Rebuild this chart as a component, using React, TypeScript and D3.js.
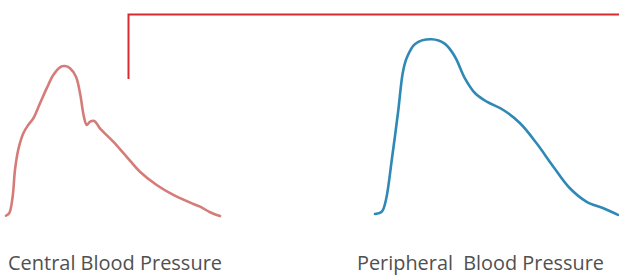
import React, { useEffect, useRef } from "react";
import * as d3 from "d3";

// fraction of the cardiac cycle, and pressure (relative units, 0-100)
const centralTime = [0, 0.015, 0.031, 0.042, 0.057, 0.081, 0.104, 0.128, 0.159, 0.19, 0.221, 0.252, 0.276, 0.299, 0.327, 0.346, 0.364, 0.377, 0.393, 0.413, 0.439, 0.501, 0.564, 0.626, 0.704, 0.782, 0.875, 0.907, 0.953, 1];
const centralPressure = [0.2, 1.5, 10.7, 25.6, 36.7, 46, 50.6, 54.3, 62.6, 70.9, 78.3, 82.6, 83.3, 82.1, 77.4, 68.2, 55.2, 50.6, 52.4, 52.8, 48.7, 41.3, 32.9, 24.6, 17.2, 11.7, 6.7, 5.2, 2.1, 0];

const peripheralTime = [0, 0.028, 0.045, 0.069, 0.096, 0.114, 0.13, 0.165, 0.233, 0.288, 0.329, 0.37, 0.412, 0.46, 0.528, 0.597, 0.665, 0.734, 0.802, 0.871, 0.94, 1];
const peripheralPressure = [1.1, 2.4, 8.9, 31.1, 58.9, 79.3, 87.6, 95.6, 98.2, 95.6, 88.5, 76.5, 68.2, 63.5, 58.9, 51.5, 40.4, 27.4, 15.4, 7.9, 4.3, 0.6];

const labels = ["Central Blood Pressure", "Peripheral  Blood Pressure"];

const width = 619,
  height = 276;

export default function App() {
  const ref = useRef<SVGSVGElement>(null);

  useEffect(() => {
    const svg = d3.select(ref.current);
    svg.selectAll("*").remove();

    const y = d3.scaleLinear().domain([0, 100]).range([216, 36]);
    const xCentral = d3.scaleLinear().domain([0, 1]).range([6, 220]);
    const xPeripheral = d3.scaleLinear().domain([0, 1]).range([375, 618]);

    // red bracket
    svg
      .append("path")
      .attr("d", "M128.5,79V14.5H619")
      .attr("fill", "none")
      .attr("stroke", "#d92a30")
      .attr("stroke-width", 2);

    const series = [
      { t: centralTime, p: centralPressure, x: xCentral, color: "#d57c78" },
      { t: peripheralTime, p: peripheralPressure, x: xPeripheral, color: "#2f88b6" },
    ];

    series.forEach((s) => {
      const line = d3
        .line<number>()
        .x((d, i) => s.x(s.t[i]))
        .y((d) => y(d))
        .curve(d3.curveCatmullRom.alpha(0.5));
      svg
        .append("path")
        .attr("d", line(s.p))
        .attr("fill", "none")
        .attr("stroke", s.color)
        .attr("stroke-width", 2.6)
        .attr("stroke-linecap", "round")
        .attr("stroke-linejoin", "round");
    });

    // label positions/widths
    const labelX = [8, 357];
    const labelW = [214, 247];

    svg
      .selectAll("text.label")
      .data(labels)
      .enter()
      .append("text")
      .attr("class", "label")
      .attr("x", (d, i) => labelX[i])
      .attr("y", 270)
      .attr("textLength", (d, i) => labelW[i])
      .attr("lengthAdjust", "spacingAndGlyphs")
      .attr("fill", "#505050")
      .style("font-family", "'Open Sans', sans-serif")
      .style("font-size", "20px")
      .style("white-space", "pre")
      .text((d) => d);
  }, []);

  return (
    <svg
      ref={ref}
      width={width}
      height={height}
      style={{ position: "absolute", left: 0, top: 0, background: "#fff" }}
    />
  );
}
